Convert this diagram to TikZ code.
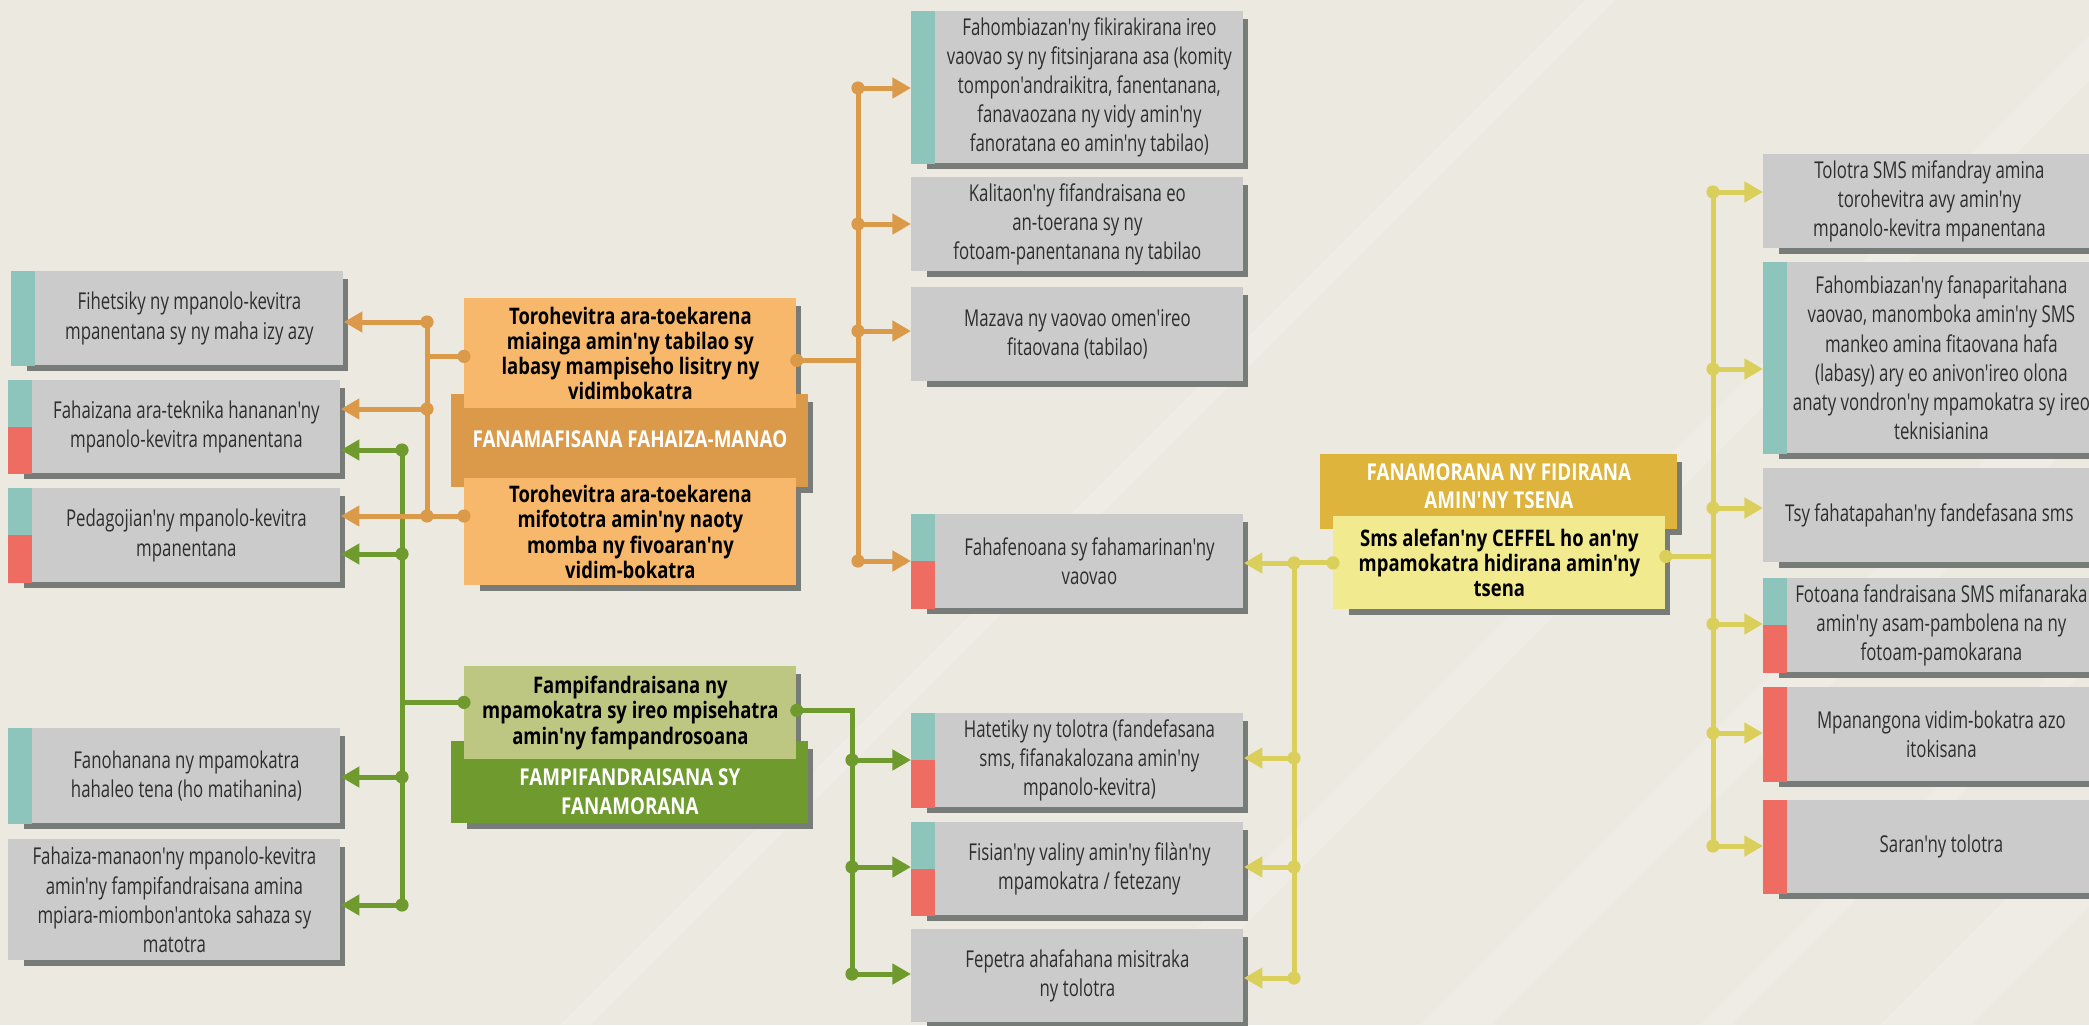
\documentclass[tikz,border=0pt]{standalone}
\usepackage{fontspec}
\usetikzlibrary{arrows.meta,calc}
\newfontfamily\cardfont{Open Sans}[FakeStretch=0.725,Ligatures=TeXOff]
\newfontfamily\headfont{Open Sans}[FakeStretch=0.81,Ligatures=TeXOff]
\definecolor{bg}{HTML}{ECE9E1}
\definecolor{cardgray}{HTML}{CBCBCB}
\definecolor{cardshadow}{HTML}{777C79}
\definecolor{inktext}{HTML}{2E2E2E}
\definecolor{barteal}{HTML}{8DC5BD}
\definecolor{barred}{HTML}{EF6C63}
\definecolor{orange-dark}{HTML}{DB9A4A}
\definecolor{orange-light}{HTML}{F8B86B}
\definecolor{green-dark}{HTML}{6F9B2E}
\definecolor{green-light}{HTML}{BEC781}
\definecolor{yellow-dark}{HTML}{DEB43C}
\definecolor{yellow-light}{HTML}{F2EA8F}
\definecolor{yellow-line}{HTML}{DBCF5C}
\tikzset{
  infocard/.style={fill=cardgray, minimum width=166pt, inner sep=0pt, anchor=north west},
  cardtext/.style={align=center, text=inktext, inner sep=0pt,
    font=\cardfont\fontsize{11.6}{14.6}\selectfont},
  topic/.style={minimum width=166pt, inner sep=0pt, anchor=north west, align=center,
    text=black, font=\headfont\bfseries\fontsize{11.4}{12.6}\selectfont},
  banner/.style={minimum width=178.5pt, inner sep=0pt, anchor=north west},
  bannertext/.style={align=center, text=white, inner sep=0pt,
    font=\headfont\bfseries\fontsize{11.6}{14.5}\selectfont},
  link/.style={line width=2.5pt},
  tip/.style={-{Triangle[length=9.3pt,width=10pt]}},
}
% shadow behind a card: top-left, width, height (px)
\newcommand{\shadowbox}[3]{%
  \fill[cardshadow] ([shift={(16,8)}]#1) rectangle ([shift={(#2+5,#3+6)}]#1);}
% name, top-left, height, bar (0 none, 1 teal, 2 red, 3 teal/red), text
\newcommand{\infobox}[5]{%
  \shadowbox{#2}{332}{#3}
  \node(#1)[infocard, minimum height=#3*0.5pt] at (#2) {};
  \ifcase#4\relax
    \node(#1-txt)[cardtext] at (#1.center) {#5};
  \or
    \fill[barteal] (#1.north west) rectangle ([xshift=12pt]#1.south west);
    \node(#1-txt)[cardtext] at ([xshift=6pt]#1.center) {#5};
  \or
    \fill[barred] (#1.north west) rectangle ([xshift=12pt]#1.south west);
    \node(#1-txt)[cardtext] at ([xshift=6pt]#1.center) {#5};
  \or
    \fill[barteal] (#1.north west) rectangle ([xshift=12pt]#1.west);
    \fill[barred] (#1.west) rectangle ([xshift=12pt]#1.south west);
    \node(#1-txt)[cardtext] at ([xshift=6pt]#1.center) {#5};
  \fi}

\begin{document}
\begin{tikzpicture}[x=0.5pt, y=-0.5pt]

\useasboundingbox (0,0) rectangle (2089,1025);
\clip (0,0) rectangle (2089,1025);
\fill[bg] (0,0) rectangle (2089,1025);
\foreach \s/\w in {560/30, 1100/45, 1420/70, 1700/30, 1880/90}
  \fill[white, opacity=0.16] (\s,1025) -- ++(\w,0) -- ++(1025,-1025) -- ++(-\w,0) -- cycle;

% left column
\infobox{l1}{11,271}{94}{1}{Fihetsiky ny mpanolo-kevitra\\mpanentana sy ny maha izy azy}
\infobox{l2}{8,380}{93}{3}{Fahaizana ara-teknika hananan'ny\\mpanolo-kevitra mpanentana}
\infobox{l3}{8,488}{94}{3}{Pedagojian'ny mpanolo-kevitra\\mpanentana}
\infobox{l4}{8,728}{95}{1}{Fanohanana ny mpamokatra\\hahaleo tena (ho matihanina)}
\infobox{l5}{8,839}{121}{0}{Fahaiza-manaon'ny mpanolo-kevitra\\amin'ny fampifandraisana amina\\mpiara-miombon'antoka sahaza sy\\matotra}

% middle column
\infobox{m1}{911,11}{152}{1}{Fahombiazan'ny fikirakirana ireo\\vaovao sy ny fitsinjarana asa (komity\\tompon'andraikitra, fanentanana,\\fanavaozana ny vidy amin'ny\\fanoratana eo amin'ny tabilao)}
\infobox{m2}{911,177}{94}{0}{Kalitaon'ny fifandraisana eo\\an-toerana sy ny\\fotoam-panentanana ny tabilao}
\infobox{m3}{911,287}{94}{0}{Mazava ny vaovao omen'ireo\\fitaovana (tabilao)}
\infobox{m4}{911,514}{94}{3}{Fahafenoana sy fahamarinan'ny\\vaovao}
\infobox{m5}{911,713}{94}{3}{Hatetiky ny tolotra (fandefasana\\sms, fifanakalozana amin'ny\\mpanolo-kevitra)}
\infobox{m6}{911,822}{93}{3}{Fisian'ny valiny amin'ny filàn'ny\\mpamokatra / fetezany}
\infobox{m7}{911,929}{93}{0}{Fepetra ahafahana misitraka\\ny tolotra}

% right column
\infobox{r1}{1763,154}{94}{0}{Tolotra SMS mifandray amina\\torohevitra avy amin'ny\\mpanolo-kevitra mpanentana}
\infobox{r2}{1763,262}{191}{1}{Fahombiazan'ny fanaparitahana\\vaovao, manomboka amin'ny SMS\\mankeo amina fitaovana hafa\\(labasy) ary eo anivon'ireo olona\\anaty vondron'ny mpamokatra sy ireo\\teknisianina}
\infobox{r3}{1763,468}{94}{0}{Tsy fahatapahan'ny fandefasana sms}
\infobox{r4}{1763,578}{94}{3}{Fotoana fandraisana SMS mifanaraka\\amin'ny asam-pambolena na ny\\fotoam-pamokarana}
\infobox{r5}{1763,687}{94}{2}{Mpanangona vidim-bokatra azo\\itokisana}
\infobox{r6}{1763,800}{93}{2}{Saran'ny tolotra}

% orange group
\shadowbox{464,298}{332}{110}
\shadowbox{464,478}{332}{107}
\shadowbox{451,394}{357}{93}
\node(oh)[banner, fill=orange-dark, minimum height=46.5pt] at (451,394) {};
\node(oh-txt)[bannertext] at ([yshift=0.75pt]oh.center) {FANAMAFISANA FAHAIZA-MANAO};
\node(ot)[topic, fill=orange-light, minimum height=55pt] at (464,298)
  {Torohevitra ara-toekarena\\miainga amin'ny tabilao sy\\labasy mampiseho lisitry ny\\vidimbokatra};
\node(ob)[topic, fill=orange-light, minimum height=53.5pt] at (464,478)
  {Torohevitra ara-toekarena\\mifototra amin'ny naoty\\momba ny fivoaran'ny\\vidim-bokatra};

% green group
\shadowbox{464,666}{332}{93}
\shadowbox{451,741}{357}{82}
\node(gh)[banner, fill=green-dark, minimum height=41pt] at (451,741) {};
\node(gh-txt)[bannertext] at ([yshift=-4.5pt]gh.center) {FAMPIFANDRAISANA SY\\FANAMORANA};
\node(gb)[topic, fill=green-light, minimum height=46.5pt] at (464,666)
  {Fampifandraisana ny\\mpamokatra sy ireo mpisehatra\\amin'ny fampandrosoana};

% yellow group
\shadowbox{1333,516}{332}{93}
\shadowbox{1320,454}{357}{75}
\node(yh)[banner, fill=yellow-dark, minimum height=37.5pt] at (1320,454) {};
\node(yh-txt)[bannertext, font=\headfont\bfseries\fontsize{11.6}{14}\selectfont]
  at ([yshift=2.75pt]yh.center) {FANAMORANA NY FIDIRANA\\AMIN'NY TSENA};
\node(yb)[topic, fill=yellow-light, minimum height=46.5pt] at (1333,516)
  {Sms alefan'ny CEFFEL ho an'ny\\mpamokatra hidirana amin'ny\\tsena};

% green links
\coordinate (gj1) at (402,450);
\coordinate (gj2) at (402,554);
\coordinate (gj3) at (402,777);
\coordinate (gj4) at (402,905);
\coordinate (gb-in) at ([yshift=5.25pt]gb.west);
\coordinate (gb-out) at ([yshift=1.25pt]gb.east);
\coordinate (grj1) at (852,760);
\coordinate (grj2) at (852,867);
\coordinate (grj3) at (852,974);
\draw[link, green-dark] (gj1) -- (gj4);
\draw[link, green-dark] (gj1 |- gb-in) -- (gb-in);
\draw[link, green-dark] (gb-out) -| (grj3);
\foreach \j/\b in {gj1/l2, gj2/l3, gj3/l4, gj4/l5}
  \draw[link, tip, green-dark] (\j) -- (\j -| \b.east);
\foreach \j/\b in {grj1/m5, grj2/m6, grj3/m7}
  \draw[link, tip, green-dark] (\j) -- (\j -| \b.west);
\foreach \p in {gj1,gj2,gj3,gj4,gb-in,gb-out,grj1,grj2,grj3}
  \fill[green-dark] (\p) circle[radius=3.3pt];

% orange links
\coordinate (oj1) at (427,322);
\coordinate (oj2) at (427,409);
\coordinate (oj3) at (427,516);
\coordinate (ot-in) at ([yshift=-1.5pt]ot.west);
\coordinate (ob-in) at (oj3 -| ob.west);
\coordinate (ot-out) at ([yshift=-3.5pt]ot.east);
\coordinate (orj1) at (858,88);
\coordinate (orj2) at (858,224);
\coordinate (orj3) at (858,331);
\coordinate (orj4) at (858,561);
\draw[link, orange-dark] (oj1) -- (oj3);
\draw[link, orange-dark] (oj1 |- ot-in) -- (ot-in);
\draw[link, orange-dark] (oj3) -- (ob-in);
\draw[link, orange-dark] (orj1) -- (orj4);
\draw[link, orange-dark] (ot-out) -- (ot-out -| orj1);
\foreach \j/\b in {oj1/l1, oj2/l2, oj3/l3}
  \draw[link, tip, orange-dark] (\j) -- (\j -| \b.east);
\foreach \j/\b in {orj1/m1, orj2/m2, orj3/m3, orj4/m4}
  \draw[link, tip, orange-dark] (\j) -- (\j -| \b.west);
\foreach \p in {oj1,oj2,oj3,ot-in,ob-in,ot-out,orj1,orj2,orj3,orj4}
  \fill[orange-dark] (\p) circle[radius=3.3pt];

% yellow links
\coordinate (yb-in) at (yb.west);
\coordinate (yb-out) at ([yshift=3.25pt]yb.east);
\coordinate (yj1) at (1294,563);
\coordinate (yj2) at (1294,758);
\coordinate (yj3) at (1294,867);
\coordinate (yj4) at (1294,978);
\coordinate (yrj1) at (1713,192);
\coordinate (yrj2) at (1713,369);
\coordinate (yrj3) at (1713,508);
\coordinate (yrj4) at (1713,624);
\coordinate (yrj5) at (1713,733);
\coordinate (yrj6) at (1713,846);
\draw[link, yellow-line] (yb-in) -- (yb-in -| yj1);
\draw[link, yellow-line] (yj1) -- (yj4);
\draw[link, yellow-line] (yb-out) -- (yb-out -| yrj1);
\draw[link, yellow-line] (yrj1) -- (yrj6);
\foreach \j/\b in {yj1/m4, yj2/m5, yj3/m6, yj4/m7}
  \draw[link, tip, yellow-line] (\j) -- (\j -| \b.east);
\foreach \j/\b in {yrj1/r1, yrj2/r2, yrj3/r3, yrj4/r4, yrj5/r5, yrj6/r6}
  \draw[link, tip, yellow-line] (\j) -- (\j -| \b.west);
\foreach \p in {yb-in,yb-out,yj1,yj2,yj3,yj4,yrj1,yrj2,yrj3,yrj4,yrj5,yrj6}
  \fill[yellow-line] (\p) circle[radius=3.3pt];

\end{tikzpicture}
\end{document}
